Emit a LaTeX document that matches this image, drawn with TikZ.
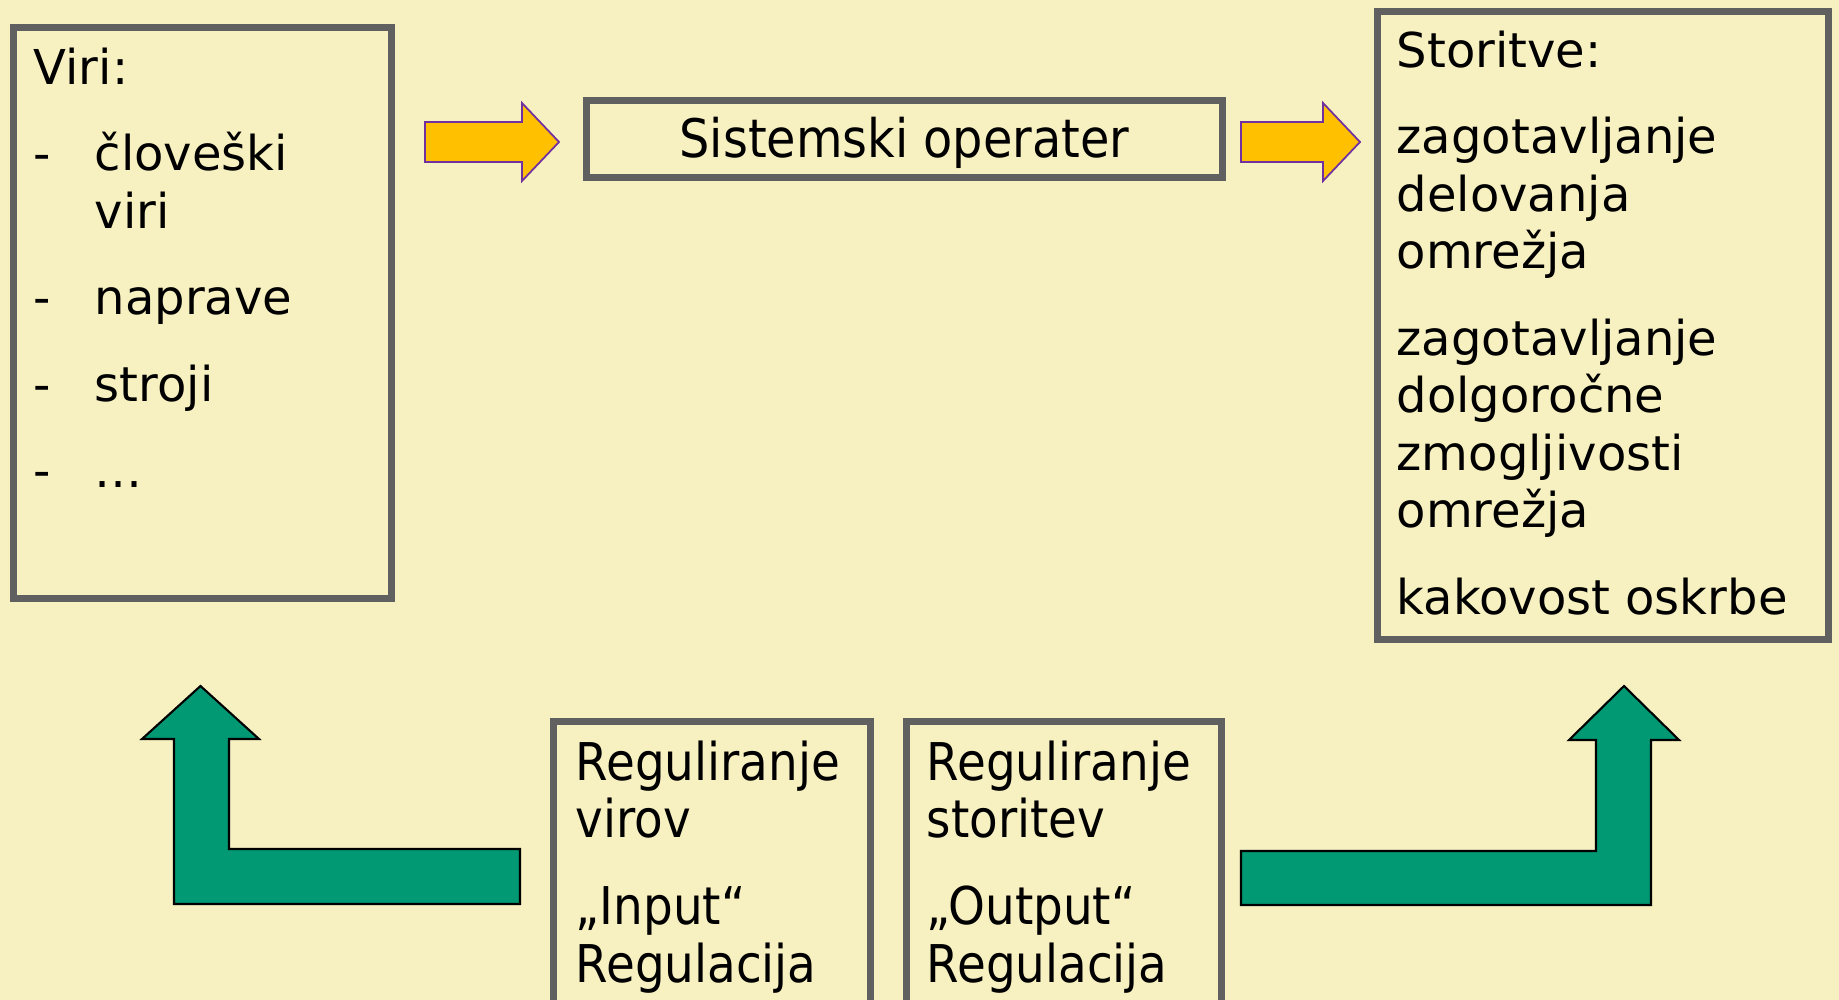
\documentclass[tikz,border=0pt]{standalone}
\usepackage{fontspec}
\setmainfont{DejaVu Sans}
\newfontfamily\narrowfont{DejaVu Sans}[FakeStretch=0.9]
\usepackage{tikz}
\usetikzlibrary{positioning}
\definecolor{slidebg}{RGB}{247, 240, 192}
\definecolor{panelborder}{RGB}{96, 96, 96}
\definecolor{flowfill}{RGB}{255, 192, 0}
\definecolor{flowborder}{RGB}{112, 48, 160}
\definecolor{ctrlfill}{RGB}{0, 153, 115}
\tikzstyle{panel} = [rectangle, draw=panelborder, line width=2pt, fill=slidebg, inner sep=0pt]
\tikzstyle{paneltext} = [anchor=north west, align=left, inner sep=0pt,
                         font=\fontsize{13.66pt}{16.36pt}\selectfont]
\tikzstyle{narrowtext} = [anchor=north west, align=left, inner sep=0pt,
                          font=\narrowfont\fontsize{14.8pt}{16.3pt}\selectfont]
\tikzstyle{flowarrow} = [fill=flowfill, draw=flowborder, line width=0.5pt]
\tikzstyle{ctrlarrow} = [fill=ctrlfill, draw=black, line width=0.6pt]

\begin{document}
\begin{tikzpicture}[x=0.01cm, y=-0.01cm]
    \fill[slidebg] (0,0) rectangle (1839,1000);
    \useasboundingbox (0,0) rectangle (1839,1000);
    \clip (0,0) rectangle (1839,1000);

    % resources
    \node[panel, minimum width=3.78cm, minimum height=5.71cm] (viri) at (202.5,313) {};
    \node[paneltext] (viritext) at (33,47) {Viri:\\[0.29cm]
        \makebox[0.61cm][l]{-}človeški\\
        \hspace*{0.61cm}viri\\[0.29cm]
        \makebox[0.61cm][l]{-}naprave\\[0.29cm]
        \makebox[0.61cm][l]{-}stroji\\[0.29cm]
        \makebox[0.61cm][l]{-}…};

    % operator
    \node[panel, minimum width=6.35cm, minimum height=0.77cm, text depth=1pt,
          font=\narrowfont\fontsize{15.1pt}{16.3pt}\selectfont] (operater) at (904.5,139) {Sistemski operater};

    % services
    \node[panel, minimum width=4.51cm, minimum height=6.28cm] (storitve) at (1603,325.5) {};
    \node[paneltext] (storitvetext) at (1396,30) {Storitve:\\[0.29cm]
        zagotavljanje\\ delovanja\\ omrežja\\[0.29cm]
        zagotavljanje\\ dolgoročne\\ zmogljivosti\\ omrežja\\[0.29cm]
        kakovost oskrbe};

    % regulation
    \node[panel, minimum width=3.17cm, minimum height=3.08cm] (inreg) at (712,876) {};
    \node[narrowtext] (inregtext) at (575,740) {Reguliranje\\ virov\\[0.3cm] „Input“\\ Regulacija};
    \node[panel, minimum width=3.15cm, minimum height=3.08cm] (outreg) at (1064,876) {};
    \node[narrowtext] (outregtext) at (926,740) {Reguliranje\\ storitev\\[0.3cm] „Output“\\ Regulacija};

    % flow arrows
    \draw[flowarrow] (425,122) -- (522,122) -- (522,103) -- (559,142) -- (522,181) -- (522,162) -- (425,162) -- cycle;
    \draw[flowarrow] (1241,122) -- (1323,122) -- (1323,103) -- (1360,142) -- (1323,181) -- (1323,162) -- (1241,162) -- cycle;

    % feedback arrows
    \draw[ctrlarrow] (520,849) -- (229,849) -- (229,739) -- (259,739) -- (200.5,686) -- (142,739)
        -- (174,739) -- (174,904) -- (520,904) -- cycle;
    \draw[ctrlarrow] (1241,851) -- (1596,851) -- (1596,740) -- (1569,740) -- (1624,686) -- (1679,740)
        -- (1651,740) -- (1651,905) -- (1241,905) -- cycle;
\end{tikzpicture}
\end{document}
